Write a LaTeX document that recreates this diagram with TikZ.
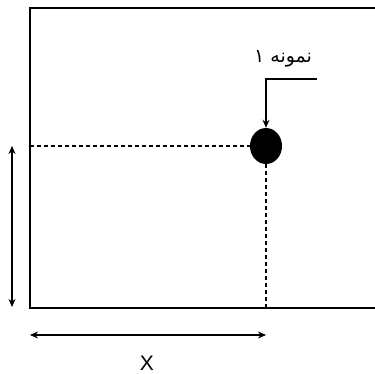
\documentclass[tikz,border=0pt]{standalone}
\usepackage{fontspec}
\setmainfont{Liberation Sans}
\newfontfamily\arabicfont[Script=Arabic]{DejaVu Sans}
\TeXXeTstate=1
\usetikzlibrary{arrows.meta,shapes.geometric}
\begin{document}
\begin{tikzpicture}[x=1pt,y=-1pt,
  frame/.style={line width=1.3pt},
  dashline/.style={line width=1.2pt,dash pattern=on 4pt off 3pt},
  dimarrow/.style={line width=1.2pt,{Stealth[length=8pt,width=7pt]}-{Stealth[length=8pt,width=7pt]}},
  leader/.style={line width=1.2pt,-{Stealth[length=8pt,width=7pt]}}]
\useasboundingbox (0,0) rectangle (375,374);
% frame (right edge beyond the picture)
\draw[frame] (376,8) -- (30,8) -- (30,308) -- (376,308);
% sample point
\node[ellipse,fill=black,minimum width=32pt,minimum height=36pt,inner sep=0pt] (dot) at (266,146) {};
\coordinate (left) at (30,146);
\coordinate (bottom) at (266,308);
\draw[dashline] (left) -- (dot.west);
\draw[dashline] (dot.south) -- (bottom);
% label and leader
\node[font=\arabicfont\fontsize{19}{22}\selectfont,inner sep=0pt] (lab) at (283,59) {\beginR نمونه ۱\endR};
\coordinate (lead) at (317,79);
\draw[leader] (lead) -- (266,79) -- (dot.north);
% dimension arrows
\coordinate (v1) at (12,146);
\coordinate (v2) at (12,307);
\draw[dimarrow] (v1) -- (v2);
\coordinate (h1) at (30,335);
\coordinate (h2) at (266,335);
\draw[dimarrow] (h1) -- (h2);
\node[font=\fontsize{21}{24}\selectfont,inner sep=0pt] (X) at (147,363) {X};
\end{tikzpicture}
\end{document}
